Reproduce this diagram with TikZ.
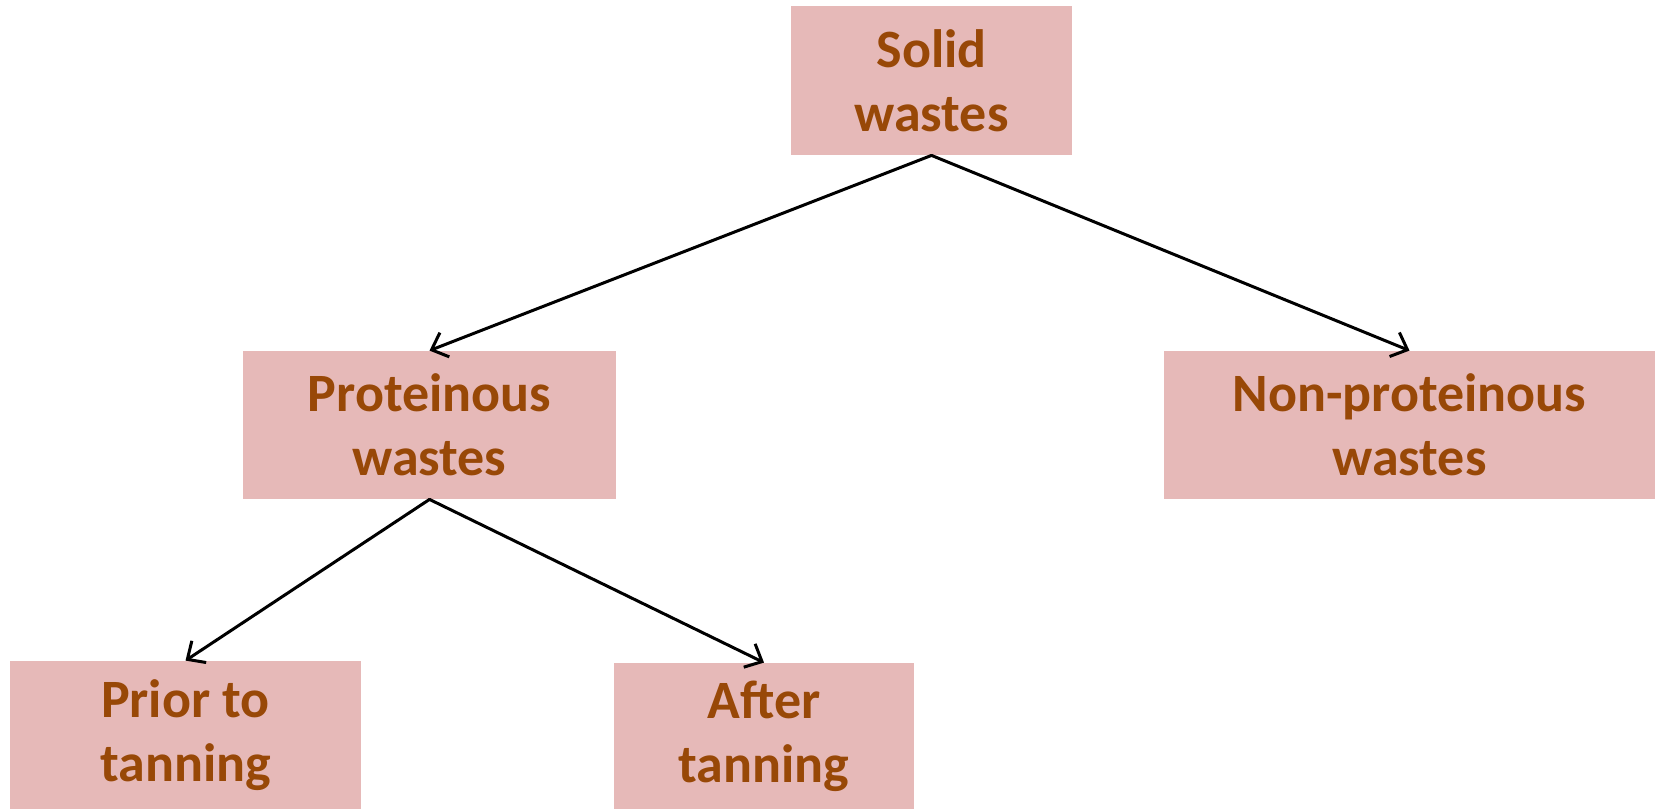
\documentclass[tikz,border=0pt]{standalone}
\usepackage{fontspec}
\setmainfont{Carlito}
\usetikzlibrary{arrows.meta}

\begin{document}
\begin{tikzpicture}[line cap=round,line join=round,x=0.5pt,y=-0.5pt,
  wastebox/.style={fill=boxpink,draw=none,text=wastetext,align=center,
    font=\fontsize{27}{32}\selectfont\bfseries,inner sep=0pt},
  link/.style={draw=black,line width=1.5pt,-{Straight Barb[length=7pt,width=13pt,line width=1.5pt]}}]
\definecolor{boxpink}{rgb}{0.902,0.725,0.722}
\definecolor{wastetext}{rgb}{0.596,0.282,0.027}

\useasboundingbox (0,0) rectangle (1655,809);

% boxes
\node[wastebox,minimum width=140.5pt,minimum height=74.5pt] (solid) at (931.5,80.5) {Solid\\wastes};
\node[wastebox,minimum width=186.5pt,minimum height=74pt] (prot) at (429.5,425) {Proteinous\\wastes};
\node[wastebox,minimum width=245.5pt,minimum height=74pt] (nonprot) at (1409.5,425) {Non-proteinous\\wastes};
\node[wastebox,minimum width=175.5pt,minimum height=74pt] (prior) at (185.5,735) {Prior to\\tanning};
\node[wastebox,minimum width=150pt,minimum height=73pt] (after) at (764,736) {After\\tanning};

% arrows
\draw[link] (solid.south) -- (prot.north);
\draw[link] (solid.south) -- (nonprot.north);
\draw[link] (prot.south) -- (prior.north);
\draw[link] (prot.south) -- (after.north);
\end{tikzpicture}
\end{document}
